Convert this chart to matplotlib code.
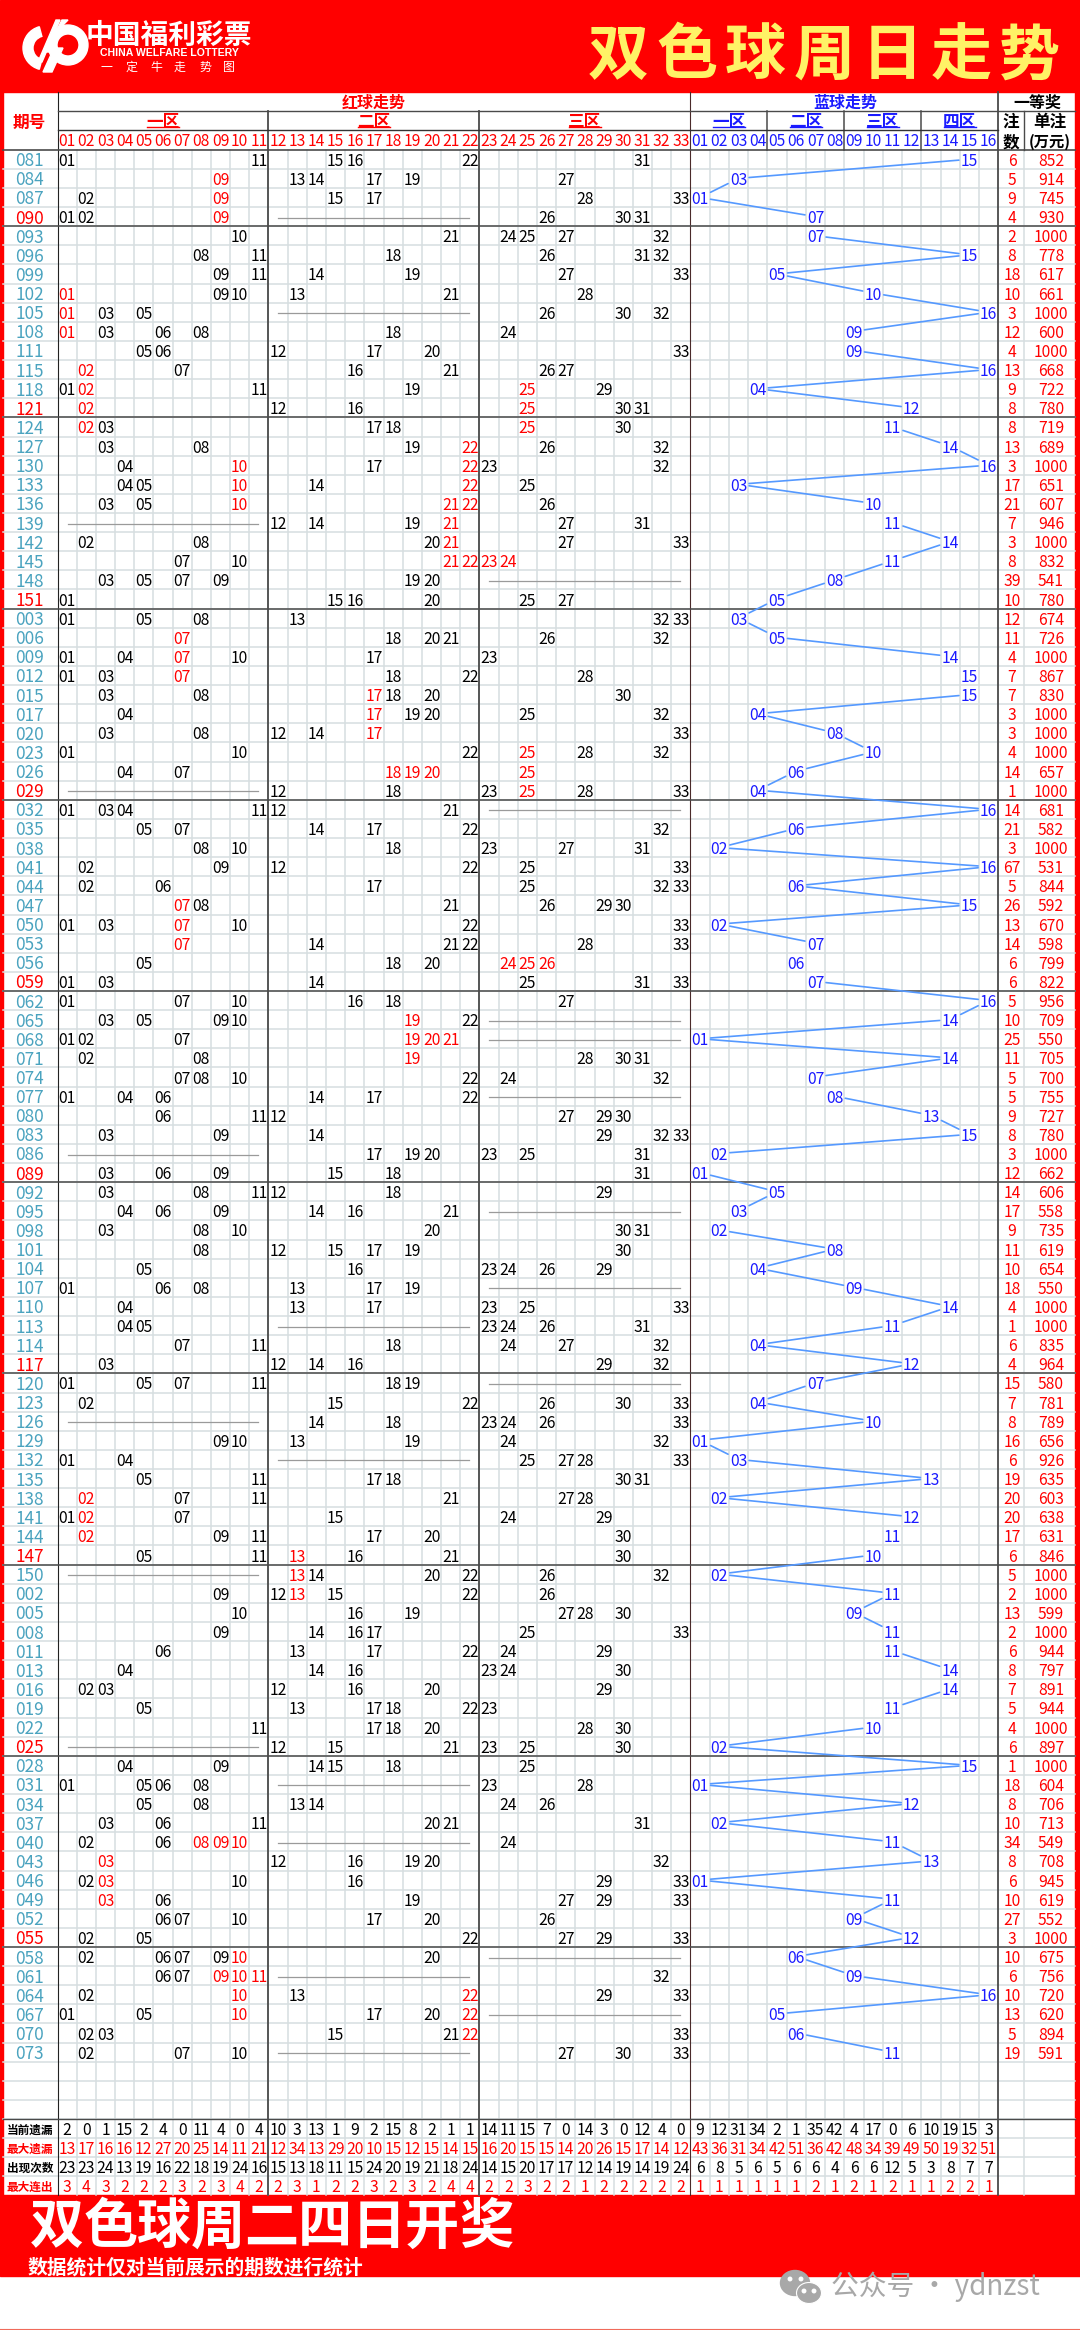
import matplotlib
matplotlib.use("Agg")
import matplotlib.pyplot as plt
from matplotlib.patches import Rectangle, Polygon, Wedge, Ellipse

plt.rcParams['font.family'] = ['Noto Sans CJK SC', 'DejaVu Sans']
CJK = ['Noto Sans CJK SC', 'DejaVu Sans']

# Data
GROUP_SIZES = [4, 10, 10, 10, 10, 10, 10, 10, 10, 10, 6]
PERIODS = ["081", "084", "087", "090",
           "093", "096", "099", "102", "105", "108", "111", "115", "118", "121",
           "124", "127", "130", "133", "136", "139", "142", "145", "148", "151",
           "003", "006", "009", "012", "015", "017", "020", "023", "026", "029",
           "032", "035", "038", "041", "044", "047", "050", "053", "056", "059",
           "062", "065", "068", "071", "074", "077", "080", "083", "086", "089",
           "092", "095", "098", "101", "104", "107", "110", "113", "114", "117",
           "120", "123", "126", "129", "132", "135", "138", "141", "144", "147",
           "150", "002", "005", "008", "011", "013", "016", "019", "022", "025",
           "028", "031", "034", "037", "040", "043", "046", "049", "052", "055",
           "058", "061", "064", "067", "070", "073"]
RED_BALLS = [
    [1, 11, 15, 16, 22, 31], [9, 13, 14, 17, 19, 27], [2, 9, 15, 17, 28, 33], [1, 2, 9, 26, 30, 31],
    [10, 21, 24, 25, 27, 32], [8, 11, 18, 26, 31, 32], [9, 11, 14, 19, 27, 33], [1, 9, 10, 13, 21, 28],
    [1, 3, 5, 26, 30, 32], [1, 3, 6, 8, 18, 24], [5, 6, 12, 17, 20, 33], [2, 7, 16, 21, 26, 27],
    [1, 2, 11, 19, 25, 29], [2, 12, 16, 25, 30, 31],
    [2, 3, 17, 18, 25, 30], [3, 8, 19, 22, 26, 32], [4, 10, 17, 22, 23, 32], [4, 5, 10, 14, 22, 25],
    [3, 5, 10, 21, 22, 26], [12, 14, 19, 21, 27, 31], [2, 8, 20, 21, 27, 33], [7, 10, 21, 22, 23, 24],
    [3, 5, 7, 9, 19, 20], [1, 15, 16, 20, 25, 27],
    [1, 5, 8, 13, 32, 33], [7, 18, 20, 21, 26, 32], [1, 4, 7, 10, 17, 23], [1, 3, 7, 18, 22, 28],
    [3, 8, 17, 18, 20, 30], [4, 17, 19, 20, 25, 32], [3, 8, 12, 14, 17, 33], [1, 10, 22, 25, 28, 32],
    [4, 7, 18, 19, 20, 25], [12, 18, 23, 25, 28, 33],
    [1, 3, 4, 11, 12, 21], [5, 7, 14, 17, 22, 32], [8, 10, 18, 23, 27, 31], [2, 9, 12, 22, 25, 33],
    [2, 6, 17, 25, 32, 33], [7, 8, 21, 26, 29, 30], [1, 3, 7, 10, 22, 33], [7, 14, 21, 22, 28, 33],
    [5, 18, 20, 24, 25, 26], [1, 3, 14, 25, 31, 33],
    [1, 7, 10, 16, 18, 27], [3, 5, 9, 10, 19, 22], [1, 2, 7, 19, 20, 21], [2, 8, 19, 28, 30, 31],
    [7, 8, 10, 22, 24, 32], [1, 4, 6, 14, 17, 22], [6, 11, 12, 27, 29, 30], [3, 9, 14, 29, 32, 33],
    [17, 19, 20, 23, 25, 31], [3, 6, 9, 15, 18, 31],
    [3, 8, 11, 12, 18, 29], [4, 6, 9, 14, 16, 21], [3, 8, 10, 20, 30, 31], [8, 12, 15, 17, 19, 30],
    [5, 16, 23, 24, 26, 29], [1, 6, 8, 13, 17, 19], [4, 13, 17, 23, 25, 33], [4, 5, 23, 24, 26, 31],
    [7, 11, 18, 24, 27, 32], [3, 12, 14, 16, 29, 32],
    [1, 5, 7, 11, 18, 19], [2, 15, 22, 26, 30, 33], [14, 18, 23, 24, 26, 33], [9, 10, 13, 19, 24, 32],
    [1, 4, 25, 27, 28, 33], [5, 11, 17, 18, 30, 31], [2, 7, 11, 21, 27, 28], [1, 2, 7, 15, 24, 29],
    [2, 9, 11, 17, 20, 30], [5, 11, 13, 16, 21, 30],
    [13, 14, 20, 22, 26, 32], [9, 12, 13, 15, 22, 26], [10, 16, 19, 27, 28, 30], [9, 14, 16, 17, 25, 33],
    [6, 13, 17, 22, 24, 29], [4, 14, 16, 23, 24, 30], [2, 3, 12, 16, 20, 29], [5, 13, 17, 18, 22, 23],
    [11, 17, 18, 20, 28, 30], [12, 15, 21, 23, 25, 30],
    [4, 9, 14, 15, 18, 25], [1, 5, 6, 8, 23, 28], [5, 8, 13, 14, 24, 26], [3, 6, 11, 20, 21, 31],
    [2, 6, 8, 9, 10, 24], [3, 12, 16, 19, 20, 32], [2, 3, 10, 16, 29, 33], [3, 6, 19, 27, 29, 33],
    [6, 7, 10, 17, 20, 26], [2, 5, 22, 27, 29, 33],
    [2, 6, 7, 9, 10, 20], [6, 7, 9, 10, 11, 32], [2, 10, 13, 22, 29, 33], [1, 5, 10, 17, 20, 22],
    [2, 3, 15, 21, 22, 33], [2, 7, 10, 27, 30, 33]]
BLUE_BALLS = [15, 3, 1, 7,
              7, 15, 5, 10, 16, 9, 9, 16, 4, 12,
              11, 14, 16, 3, 10, 11, 14, 11, 8, 5,
              3, 5, 14, 15, 15, 4, 8, 10, 6, 4,
              16, 6, 2, 16, 6, 15, 2, 7, 6, 7,
              16, 14, 1, 14, 7, 8, 13, 15, 2, 1,
              5, 3, 2, 8, 4, 9, 14, 11, 4, 12,
              7, 4, 10, 1, 3, 13, 2, 12, 11, 10,
              2, 11, 9, 11, 11, 14, 14, 11, 10, 2,
              15, 1, 12, 2, 11, 13, 1, 11, 9, 12,
              6, 9, 16, 5, 6, 11]
WINNERS = [6, 5, 9, 4,
           2, 8, 18, 10, 3, 12, 4, 13, 9, 8,
           8, 13, 3, 17, 21, 7, 3, 8, 39, 10,
           12, 11, 4, 7, 7, 3, 3, 4, 14, 1,
           14, 21, 3, 67, 5, 26, 13, 14, 6, 6,
           5, 10, 25, 11, 5, 5, 9, 8, 3, 12,
           14, 17, 9, 11, 10, 18, 4, 1, 6, 4,
           15, 7, 8, 16, 6, 19, 20, 20, 17, 6,
           5, 2, 13, 2, 6, 8, 7, 5, 4, 6,
           1, 18, 8, 10, 34, 8, 6, 10, 27, 3,
           10, 6, 10, 13, 5, 19]
PRIZES = [852, 914, 745, 930,
          1000, 778, 617, 661, 1000, 600, 1000, 668, 722, 780,
          719, 689, 1000, 651, 607, 946, 1000, 832, 541, 780,
          674, 726, 1000, 867, 830, 1000, 1000, 1000, 657, 1000,
          681, 582, 1000, 531, 844, 592, 670, 598, 799, 822,
          956, 709, 550, 705, 700, 755, 727, 780, 1000, 662,
          606, 558, 735, 619, 654, 550, 1000, 1000, 835, 964,
          580, 781, 789, 656, 926, 635, 603, 638, 631, 846,
          1000, 1000, 599, 1000, 944, 797, 891, 944, 1000, 897,
          1000, 604, 706, 713, 549, 708, 945, 619, 552, 1000,
          675, 756, 720, 620, 894, 591]
STAT_LABELS = ["当前遗漏", "最大遗漏", "出现次数", "最大连出"]
STAT_CURRENT = [2, 0, 1, 15, 2, 4, 0, 11, 4, 0, 4, 10, 3, 13, 1, 9, 2, 15, 8, 2, 1, 1,
                14, 11, 15, 7, 0, 14, 3, 0, 12, 4, 0,
                9, 12, 31, 34, 2, 1, 35, 42, 4, 17, 0, 6, 10, 19, 15, 3]
STAT_MAX_GAP = [13, 17, 16, 16, 12, 27, 20, 25, 14, 11, 21, 12, 34, 13, 29, 20, 10, 15, 12, 15, 14, 15,
                16, 20, 15, 15, 14, 20, 26, 15, 17, 14, 12,
                43, 36, 31, 34, 42, 51, 36, 42, 48, 34, 39, 49, 50, 19, 32, 51]
STAT_COUNT = [23, 23, 24, 13, 19, 16, 22, 18, 19, 24, 16, 15, 13, 18, 11, 15, 24, 20, 19, 21, 18, 24,
              14, 15, 20, 17, 17, 12, 14, 19, 14, 19, 24,
              6, 8, 5, 6, 5, 6, 6, 4, 6, 6, 12, 5, 3, 8, 7, 7]
STAT_MAX_RUN = [3, 4, 3, 2, 2, 2, 3, 2, 3, 4, 2, 2, 3, 1, 2, 2, 3, 2, 3, 2, 4, 4,
                2, 2, 3, 2, 2, 1, 2, 2, 2, 2, 2,
                1, 1, 1, 1, 1, 1, 2, 1, 2, 1, 2, 1, 1, 2, 2, 1]
RED_ZONES = [(1, 11), (12, 22), (23, 33)]

# Layout, in pixels of the final picture
LEFT = 3
PERIOD_R = 57.5
RED_R = PERIOD_R + 33 * 19.18
BLUE_R = RED_R + 16 * 19.24
WIN_R = 1024
RIGHT = 1075
TOP = 92
HEAD1 = 111
HEAD2 = 130.3
BODY = 149.7
ROW_H = 19.12
BLANK_ROWS = 3
STAT_TOP = BODY + (len(PERIODS) + BLANK_ROWS) * ROW_H
STAT_H = 19.0
TABLE_BOTTOM = 2195
RED_BOTTOM = 2276

RED = '#ff0000'
BLUE = '#1a1aff'
TEAL = '#4aa3bf'
GRID = '#d6dee0'
DARK = '#4a4a4a'
NUM_SIZE = 11.3


def red_x(n):
    return PERIOD_R + (n - 0.5) * 19.18


def blue_x(n):
    return RED_R + (n - 0.5) * 19.24


def row_y(i):
    return BODY + (i + 0.5) * ROW_H


def put(ax, x, y, s, color='black', size=NUM_SIZE, **kw):
    ax.text(x, y, s, color=color, fontsize=size, ha='center', va='center_baseline', **kw)


def draw_grid(ax):
    for n in range(1, 33):
        ax.plot([red_x(n) + 9.59] * 2, [BODY, TABLE_BOTTOM], color=GRID, lw=1.1, zorder=1)
    for n in range(1, 16):
        ax.plot([blue_x(n) + 9.62] * 2, [BODY, TABLE_BOTTOM], color=GRID, lw=1.1, zorder=1)
    ax.plot([WIN_R] * 2, [BODY, TABLE_BOTTOM], color=GRID, lw=1.1, zorder=1)
    for i in range(len(PERIODS) + BLANK_ROWS):
        y = BODY + (i + 1) * ROW_H
        ax.plot([LEFT, RIGHT], [y, y], color=GRID, lw=1.1, zorder=1)
    for i in range(1, 4):
        y = STAT_TOP + i * STAT_H
        ax.plot([LEFT, RIGHT], [y, y], color=GRID, lw=1.1, zorder=1)

    # darker frame lines
    ax.plot([PERIOD_R] * 2, [TOP, TABLE_BOTTOM], color='#222222', lw=0.8, zorder=2)
    ax.plot([RED_R] * 2, [TOP, TABLE_BOTTOM], color='#4a2a2a', lw=0.8, zorder=2)
    ax.plot([BLUE_R] * 2, [TOP, TABLE_BOTTOM], color=DARK, lw=1.3, zorder=2)
    for zone_end in (11, 22):
        x = PERIOD_R + zone_end * 19.18
        ax.plot([x, x], [HEAD1, TABLE_BOTTOM], color=DARK, lw=1.3, zorder=2)
    for k in (4, 8, 12):
        x = RED_R + k * 19.24
        ax.plot([x, x], [HEAD1, BODY], color=DARK, lw=1.1, zorder=2)
    ax.plot([WIN_R] * 2, [HEAD1, BODY], color=DARK, lw=1.0, zorder=2)
    ax.plot([PERIOD_R, RIGHT], [HEAD1, HEAD1], color=DARK, lw=1.0, zorder=2)
    ax.plot([PERIOD_R, BLUE_R], [HEAD2, HEAD2], color='#333333', lw=1.0, zorder=2)
    ax.plot([LEFT, RIGHT], [BODY, BODY], color=DARK, lw=1.2, zorder=2)
    ax.plot([LEFT, RIGHT], [STAT_TOP, STAT_TOP], color=DARK, lw=1.0, zorder=2)
    pos = 0
    for size in GROUP_SIZES[:-1]:
        pos += size
        y = BODY + pos * ROW_H
        ax.plot([LEFT, RIGHT], [y, y], color=DARK, lw=1.1, zorder=2)


def zone_head(ax, x, y, s, color):
    put(ax, x, y, s, color=color, size=12, weight='bold')
    ax.plot([x - 16, x + 16], [y + 7, y + 7], color=color, lw=1.0, zorder=3)


def draw_header(ax):
    put(ax, 29.5, 120.5, "期号", color=RED, size=12, weight='bold')
    put(ax, 374, 101, "红球走势", color=RED, size=11.5, weight='bold')
    put(ax, 845, 101, "蓝球走势", color=BLUE, size=11.5, weight='bold')
    put(ax, 1037, 101, "一等奖", size=11.5, weight='bold')
    for lo_hi, name in zip(RED_ZONES, ["一区", "二区", "三区"]):
        zone_head(ax, (red_x(lo_hi[0]) + red_x(lo_hi[1])) / 2, 120, name, RED)
    for k, name in enumerate(["一区", "二区", "三区", "四区"]):
        zone_head(ax, blue_x(4 * k + 2.5), 120, name, BLUE)
    put(ax, 1011, 120, "注", size=12, weight='bold')
    put(ax, 1011, 140, "数", size=12, weight='bold')
    put(ax, 1050, 120, "单注", size=12, weight='bold')
    put(ax, 1050, 140, "(万元)", size=11, weight='bold')
    y = (HEAD2 + BODY) / 2
    for n in range(1, 34):
        put(ax, red_x(n), y, f"{n:02d}", color=RED)
    for n in range(1, 17):
        put(ax, blue_x(n), y, f"{n:02d}", color=BLUE)


def hot_numbers():
    # red marks: three draws running in a column, or three neighbours in a row
    sets = [set(r) for r in RED_BALLS]
    hot = [set() for _ in sets]
    for i, row in enumerate(sets):
        for n in row:
            if n + 1 in row and n + 2 in row:
                hot[i].update((n, n + 1, n + 2))
            if i + 2 < len(sets) and n in sets[i + 1] and n in sets[i + 2]:
                hot[i].add(n)
                hot[i + 1].add(n)
                hot[i + 2].add(n)
    return hot


def draw_rows(ax):
    hot = hot_numbers()
    group_ends = set()
    pos = 0
    for size in GROUP_SIZES[:-1]:
        pos += size
        group_ends.add(pos - 1)
    for i, period in enumerate(PERIODS):
        y = row_y(i)
        put(ax, 29.5, y, period, color=RED if i in group_ends else TEAL, size=12.4)
        for n in RED_BALLS[i]:
            put(ax, red_x(n), y, f"{n:02d}", color=RED if n in hot[i] else 'black')
        for lo, hi in RED_ZONES:
            if not any(lo <= n <= hi for n in RED_BALLS[i]):
                ax.plot([PERIOD_R + (lo - 1) * 19.18 + 10, PERIOD_R + hi * 19.18 - 10], [y + 1, y + 1],
                        color='#9a9a9a', lw=0.9, zorder=3)
        put(ax, blue_x(BLUE_BALLS[i]), y, f"{BLUE_BALLS[i]:02d}", color=BLUE)
        put(ax, 1012, y, str(WINNERS[i]), color=RED)
        put(ax, 1051, y, str(PRIZES[i]), color=RED)


def draw_blue_lines(ax):
    for i in range(len(BLUE_BALLS) - 1):
        a, b = BLUE_BALLS[i], BLUE_BALLS[i + 1]
        if abs(a - b) < 2:
            continue
        x0, x1 = blue_x(a), blue_x(b)
        y0, y1 = row_y(i), row_y(i + 1)
        t = 10.5 / abs(x1 - x0)
        ax.plot([x0 + (x1 - x0) * t, x1 - (x1 - x0) * t],
                [y0 + (y1 - y0) * t, y1 - (y1 - y0) * t],
                color='#5599ff', lw=1.2, zorder=4, solid_capstyle='round')


def draw_stats(ax):
    stats = [STAT_CURRENT, STAT_MAX_GAP, STAT_COUNT, STAT_MAX_RUN]
    colors = ['black', RED, 'black', RED]
    for k, values in enumerate(stats):
        y = STAT_TOP + (k + 0.5) * STAT_H
        put(ax, 30, y, STAT_LABELS[k], color=colors[k], size=8.4, weight='bold')
        for j, v in enumerate(values):
            x = red_x(j + 1) if j < 33 else blue_x(j - 32)
            put(ax, x, y, str(v), color=colors[k])


def draw_banners(ax):
    ax.add_patch(Rectangle((0, 0), 1080, TOP, color=RED, zorder=0))
    ax.add_patch(Rectangle((0, TABLE_BOTTOM), 1080, RED_BOTTOM - TABLE_BOTTOM, color=RED, zorder=0))
    ax.add_patch(Rectangle((0, TOP), LEFT, TABLE_BOTTOM - TOP, color=RED, zorder=0))
    ax.add_patch(Rectangle((RIGHT, TOP), 1080 - RIGHT, TABLE_BOTTOM - TOP, color=RED, zorder=0))
    ax.plot([0, 1080], [2329.4, 2329.4], color='#f06a5a', lw=0.8, zorder=1)

    # logo mark
    ax.add_patch(Wedge((45, 48), 22, 105, 255, width=10, color='white', zorder=2))
    ax.add_patch(Wedge((68, 45), 20, 0, 360, width=9, color='white', zorder=2))
    ax.add_patch(Polygon([[43, 72], [52, 72], [63, 48], [54, 48]], color='white', zorder=2))
    ax.add_patch(Polygon([[38, 62], [42, 62], [60, 20], [56, 20]], color='white', zorder=2))
    ax.add_patch(Polygon([[45, 52], [50, 52], [64, 24], [68, 20], [62, 20]], color='white', zorder=2))
    put(ax, 169, 33, "中国福利彩票", color='white', size=20, weight='bold')
    put(ax, 169, 52, "CHINA WELFARE LOTTERY", color='white', size=7.6, family='Liberation Sans', weight='bold')
    for x, ch in zip([106, 131, 156, 180, 205, 229], "一定牛走势图"):
        put(ax, x, 65.5, ch, color='white', size=8.6)

    # title, letter by letter because of its wide spacing
    for k, ch in enumerate("双色球周日走势"):
        put(ax, 618 + k * 68.6, 50, ch, color='#fff266', size=44, weight='bold')

    for k, ch in enumerate("双色球周二四日开奖"):
        put(ax, 57 + k * 53.6, 2222, ch, color='white', size=39, weight='bold')
    put(ax, 195, 2266, "数据统计仅对当前展示的期数进行统计", color='white', size=14.2, weight='bold')

    # watermark
    ax.add_patch(Ellipse((795, 2283), 29, 25, color='#a8a8a8', zorder=2))
    ax.add_patch(Ellipse((809, 2293), 25, 21, color='#a8a8a8', ec='white', lw=0.8, zorder=3))
    for x, y in [(790, 2279), (801, 2279), (804, 2291), (814, 2291)]:
        ax.add_patch(Ellipse((x, y), 3.5, 3.5, color='white', zorder=4))
    ax.text(831, 2287, "公众号 · ydnzst", color='#a8a8a8', fontsize=20, ha='left', va='center', zorder=3)


def main():
    fig = plt.figure(figsize=(10.8, 23.3), dpi=100, facecolor='white')
    ax = fig.add_axes([0, 0, 1, 1])
    ax.set_xlim(0, 1080)
    ax.set_ylim(2330, 0)
    ax.axis('off')
    draw_banners(ax)
    draw_grid(ax)
    draw_header(ax)
    draw_rows(ax)
    draw_blue_lines(ax)
    draw_stats(ax)
    fig.savefig('out.png', dpi=100)


if __name__ == "__main__":
    main()
